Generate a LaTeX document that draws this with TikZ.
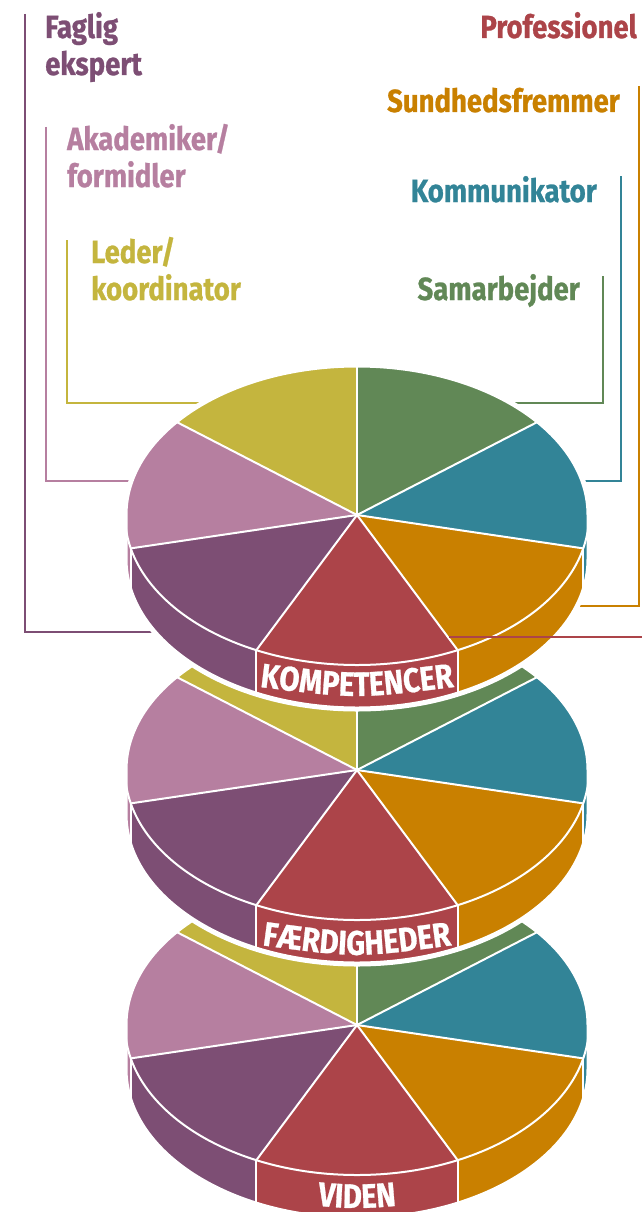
\documentclass[tikz,border=0pt]{standalone}
\usepackage{fontspec}
\newfontfamily\cond[FakeStretch=0.86,FakeBold=0.8]{Fira Sans}
\usetikzlibrary{decorations.text}
\definecolor{cgreen}{HTML}{618856}
\definecolor{cteal}{HTML}{328497}
\definecolor{corange}{HTML}{C98000}
\definecolor{cred}{HTML}{AC4449}
\definecolor{cpurple}{HTML}{7D4E74}
\definecolor{cpink}{HTML}{B67FA0}
\definecolor{cyellow}{HTML}{C4B53E}
\newcommand\headfont{\cond\bfseries\fontsize{32}{37}\selectfont}
\newcommand\lblfont{\cond\bfseries\fontsize{34}{34}\selectfont}
\newcommand\piedisc[2]{%
  \coordinate (#1) at (357,#2);
  \foreach \a/\b/\col in {90/38.571/cgreen, 38.571/-12.857/cteal, -12.857/-64.286/corange, -64.286/-115.714/cred, -115.714/-167.143/cpurple, -167.143/-218.571/cpink, -218.571/-270/cyellow}{
    \fill[\col] (#1) -- ++(\a:232 and 150) arc[start angle=\a,end angle=\b,x radius=232,y radius=150] -- cycle;
  }
  \foreach \a/\b/\col in {180/192.857/cpink, 192.857/244.286/cpurple, 244.286/295.714/cred, 295.714/347.143/corange, 347.143/360/cteal}{
    \fill[\col] (#1) ++(\a:232 and 150) arc[start angle=\a,end angle=\b,x radius=232,y radius=150] -- ++(0,-44) arc[start angle=\b,end angle=\a,x radius=232,y radius=150] -- cycle;
  }
  \draw[sil] (#1) ++(0:232 and 150) arc[start angle=0,end angle=180,x radius=232,y radius=150] -- ++(0,-44) arc[start angle=180,end angle=360,x radius=232,y radius=150] -- cycle;
  \draw[sep] (#1) ellipse[x radius=232,y radius=150];
  \foreach \a in {90,38.571,-12.857,-64.286,-115.714,-167.143,-218.571}{
    \draw[sep] (#1) -- ++(\a:232 and 150);
  }
  \foreach \a in {192.857,244.286,295.714,347.143}{
    \draw[sep] (#1) ++(\a:232 and 150) -- ++(0,-44);
  }
}
\begin{document}
\begin{tikzpicture}[x=1pt,y=1pt]
\tikzset{
  lead/.style={line width=2.7},
  sep/.style={white,line width=2},
  sil/.style={white,line width=5},
  head/.style={inner sep=0,font=\headfont},
  bandtext/.style={decorate,decoration={text along path,text align=center,text color=white,text={|\lblfont|#1}}}
}
\useasboundingbox (0,0) rectangle (642,-1212);
\clip (0,0) rectangle (642,-1212);
\fill[white] (0,0) rectangle (642,-1212);

% leader line end points
\coordinate (pA) at (25,-14);   \coordinate (pB) at (250,-632);
\coordinate (kA) at (46,-127);  \coordinate (kB) at (250,-481);
\coordinate (lA) at (67,-240);  \coordinate (lB) at (250,-403);
\coordinate (gA) at (603,-276); \coordinate (gB) at (450,-403);
\coordinate (tA) at (621,-176); \coordinate (tB) at (450,-481);
\coordinate (oA) at (639,-86);  \coordinate (oB) at (450,-606);
\coordinate (rA) at (642,-637); \coordinate (rB) at (449,-637);

\draw[lead,cpurple] (pA) |- (pB);
\draw[lead,cpink] (kA) |- (kB);
\draw[lead,cyellow] (lA) |- (lB);
\draw[lead,cgreen] (gA) |- (gB);
\draw[lead,cteal] (tA) |- (tB);
\draw[lead,corange] (oA) |- (oB);

% discs, back to front
\piedisc{d3}{-1025}
\piedisc{d2}{-770}
\piedisc{d1}{-515}

\draw[lead,cred] (rA) -- (rB);

% band labels
\coordinate (a1) at (260,-687); \coordinate (a2) at (357,-699); \coordinate (a3) at (454,-687);
\coordinate (b1) at (260,-945); \coordinate (b2) at (357,-958); \coordinate (b3) at (454,-945);
\coordinate (c1) at (260,-1199); \coordinate (c2) at (357,-1211); \coordinate (c3) at (454,-1199);
\path[bandtext=KOMPETENCER] (a1) .. controls (a2) .. (a3);
\path[bandtext=FÆRDIGHEDER] (b1) .. controls (b2) .. (b3);
\path[bandtext=VIDEN] (c1) .. controls (c2) .. (c3);

% headings
\node[head,text=cpurple,anchor=base west] (fag) at (45,-38) {\begin{tabular}[t]{@{}l@{}}Faglig\\ekspert\end{tabular}};
\node[head,text=cpink,anchor=base west] (aka) at (67,-150) {\begin{tabular}[t]{@{}l@{}}Akademiker/\\formidler\end{tabular}};
\node[head,text=cyellow,anchor=base west] (led) at (91,-263) {\begin{tabular}[t]{@{}l@{}}Leder/\\koordinator\end{tabular}};
\node[head,text=cred,anchor=base east] (pro) at (637,-38) {Professionel};
\node[head,text=corange,anchor=base east] (sun) at (620,-112) {Sundhedsfremmer};
\node[head,text=cteal,anchor=base east] (kom) at (597,-202) {Kommunikator};
\node[head,text=cgreen,anchor=base east] (sam) at (580,-300) {Samarbejder};
\end{tikzpicture}
\end{document}
